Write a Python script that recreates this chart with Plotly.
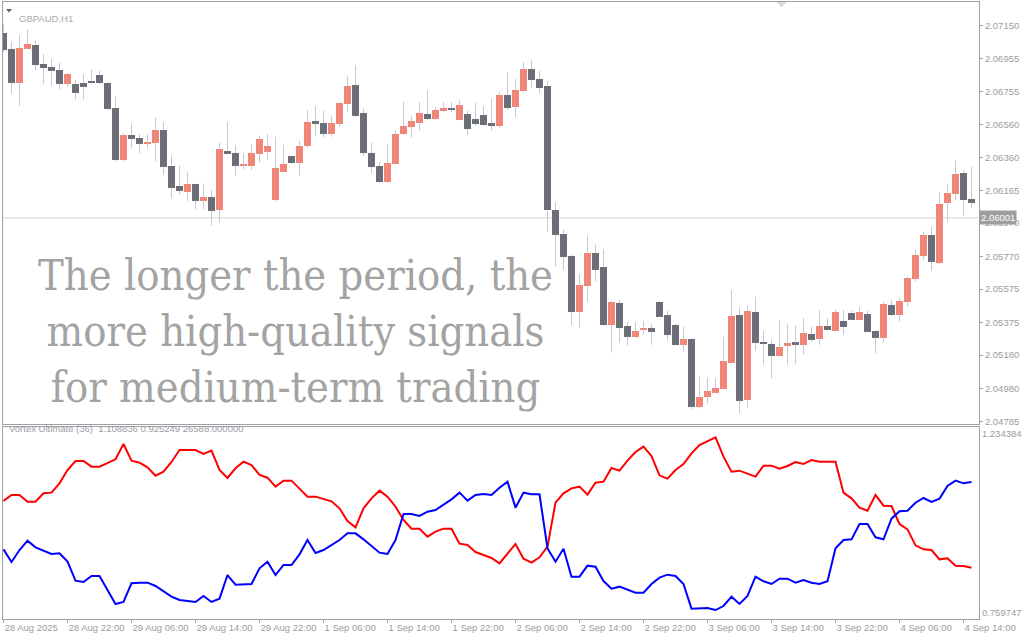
import plotly.graph_objects as go

# ── data ──────────────────────────────────────────────────────────────────────
OPEN = [
    2.07108, 2.07011, 2.06809, 2.07013, 2.07035, 2.06921, 2.06903, 2.06885, 2.06803, 2.06803,
    2.06807, 2.06821, 2.06857, 2.06809, 2.06660, 2.06347, 2.06498, 2.06480, 2.06447, 2.06449,
    2.06528, 2.06313, 2.06193, 2.06157, 2.06205, 2.06104, 2.06126, 2.06048, 2.06403, 2.06389,
    2.06313, 2.06313, 2.06385, 2.06397, 2.06108, 2.06277, 2.06371, 2.06331, 2.06432, 2.06580,
    2.06568, 2.06504, 2.06564, 2.06684, 2.06795, 2.06628, 2.06389, 2.06311, 2.06215, 2.06323,
    2.06502, 2.06544, 2.06568, 2.06622, 2.06592, 2.06640, 2.06658, 2.06586, 2.06622, 2.06592,
    2.06616, 2.06568, 2.06550, 2.06736, 2.06664, 2.06760, 2.06891, 2.06831, 2.06789, 2.06048,
    2.05906, 2.05773, 2.05440, 2.05593, 2.05793, 2.05709, 2.05360, 2.05492, 2.05354, 2.05288,
    2.05332, 2.05342, 2.05498, 2.05420, 2.05360, 2.05242, 2.05278, 2.04872, 2.04928, 2.04955,
    2.04979, 2.05133, 2.05420, 2.04914, 2.05438, 2.05260, 2.05247, 2.05177, 2.05236, 2.05253,
    2.05242, 2.05306, 2.05278, 2.05354, 2.05326, 2.05384, 2.05434, 2.05392, 2.05426, 2.05324,
    2.05284, 2.05480, 2.05420, 2.05498, 2.05635, 2.05773, 2.05900, 2.05731, 2.06092, 2.06145,
    2.06271, 2.06114,
]
HIGH = [
    2.07160, 2.07054, 2.07094, 2.07130, 2.07059, 2.06981, 2.06951, 2.06927, 2.06864, 2.06825,
    2.06861, 2.06891, 2.06881, 2.06812, 2.06730, 2.06507, 2.06564, 2.06502, 2.06502, 2.06602,
    2.06574, 2.06373, 2.06313, 2.06275, 2.06208, 2.06205, 2.06168, 2.06449, 2.06574, 2.06435,
    2.06387, 2.06443, 2.06492, 2.06502, 2.06486, 2.06438, 2.06374, 2.06461, 2.06646, 2.06670,
    2.06640, 2.06610, 2.06694, 2.06849, 2.06915, 2.06654, 2.06449, 2.06335, 2.06443, 2.06526,
    2.06696, 2.06610, 2.06694, 2.06765, 2.06664, 2.06694, 2.06694, 2.06706, 2.06640, 2.06688,
    2.06670, 2.06712, 2.06754, 2.06873, 2.06831, 2.06933, 2.06945, 2.06879, 2.06819, 2.06096,
    2.05933, 2.05780, 2.05665, 2.05894, 2.05840, 2.05813, 2.05505, 2.05514, 2.05378, 2.05378,
    2.05384, 2.05366, 2.05501, 2.05446, 2.05366, 2.05350, 2.05281, 2.05051, 2.05045, 2.05042,
    2.05290, 2.05570, 2.05466, 2.05474, 2.05529, 2.05326, 2.05272, 2.05390, 2.05366, 2.05360,
    2.05402, 2.05350, 2.05450, 2.05402, 2.05456, 2.05450, 2.05446, 2.05468, 2.05444, 2.05327,
    2.05500, 2.05510, 2.05522, 2.05649, 2.05809, 2.05918, 2.05948, 2.06156, 2.06205, 2.06347,
    2.06287, 2.06307,
]
LOW = [
    2.06989, 2.06742, 2.06670, 2.07008, 2.06885, 2.06801, 2.06791, 2.06770, 2.06785, 2.06710,
    2.06710, 2.06800, 2.06803, 2.06646, 2.06341, 2.06341, 2.06419, 2.06385, 2.06414, 2.06337,
    2.06259, 2.06118, 2.06139, 2.06102, 2.06050, 2.06052, 2.05954, 2.05974, 2.06380, 2.06253,
    2.06291, 2.06287, 2.06331, 2.06347, 2.06098, 2.06274, 2.06326, 2.06253, 2.06420, 2.06492,
    2.06483, 2.06486, 2.06546, 2.06636, 2.06605, 2.06373, 2.06269, 2.06212, 2.06212, 2.06320,
    2.06499, 2.06480, 2.06520, 2.06589, 2.06589, 2.06634, 2.06634, 2.06583, 2.06496, 2.06550,
    2.06553, 2.06520, 2.06538, 2.06646, 2.06604, 2.06754, 2.06777, 2.06748, 2.05918, 2.05709,
    2.05689, 2.05360, 2.05344, 2.05500, 2.05623, 2.05355, 2.05197, 2.05254, 2.05236, 2.05285,
    2.05302, 2.05242, 2.05407, 2.05270, 2.05238, 2.05201, 2.04856, 2.04862, 2.04892, 2.04952,
    2.04976, 2.05130, 2.04832, 2.04868, 2.05207, 2.05123, 2.05042, 2.05174, 2.05123, 2.05129,
    2.05183, 2.05260, 2.05242, 2.05328, 2.05323, 2.05302, 2.05389, 2.05389, 2.05316, 2.05189,
    2.05254, 2.05416, 2.05380, 2.05470, 2.05619, 2.05749, 2.05685, 2.05728, 2.05978, 2.06108,
    2.06014, 2.06062,
]
CLOSE = [
    2.07005, 2.06809, 2.07017, 2.07042, 2.06915, 2.06897, 2.06881, 2.06803, 2.06861, 2.06749,
    2.06785, 2.06806, 2.06806, 2.06654, 2.06347, 2.06498, 2.06473, 2.06444, 2.06456, 2.06528,
    2.06307, 2.06181, 2.06162, 2.06205, 2.06104, 2.06126, 2.06044, 2.06414, 2.06385, 2.06313,
    2.06319, 2.06389, 2.06474, 2.06432, 2.06301, 2.06323, 2.06329, 2.06432, 2.06574, 2.06562,
    2.06504, 2.06568, 2.06688, 2.06789, 2.06610, 2.06389, 2.06305, 2.06215, 2.06329, 2.06502,
    2.06550, 2.06580, 2.06628, 2.06592, 2.06646, 2.06658, 2.06646, 2.06676, 2.06532, 2.06562,
    2.06556, 2.06550, 2.06736, 2.06658, 2.06765, 2.06891, 2.06825, 2.06777, 2.06045, 2.05900,
    2.05767, 2.05440, 2.05599, 2.05793, 2.05689, 2.05360, 2.05500, 2.05342, 2.05290, 2.05324,
    2.05344, 2.05320, 2.05410, 2.05300, 2.05242, 2.05278, 2.04872, 2.04931, 2.04966, 2.04985,
    2.05145, 2.05414, 2.04908, 2.05444, 2.05254, 2.05248, 2.05177, 2.05230, 2.05253, 2.05242,
    2.05312, 2.05272, 2.05354, 2.05332, 2.05438, 2.05350, 2.05392, 2.05438, 2.05320, 2.05284,
    2.05486, 2.05420, 2.05504, 2.05641, 2.05779, 2.05900, 2.05737, 2.06085, 2.06151, 2.06265,
    2.06108, 2.06092,
]

VI_PLUS = [
    1.0549, 1.0708, 1.0708, 1.0531, 1.0531, 1.0752, 1.0770, 1.1017, 1.1371, 1.1609,
    1.1609, 1.1459, 1.1459, 1.1565, 1.1654, 1.2060, 1.1618, 1.1565, 1.1441, 1.1220,
    1.1326, 1.1583, 1.1901, 1.1901, 1.1901, 1.1795, 1.1883, 1.1371, 1.1159, 1.1415,
    1.1592, 1.1503, 1.1238, 1.1167, 1.0929, 1.1088, 1.1088, 1.0876, 1.0664, 1.0664,
    1.0593, 1.0540, 1.0354, 1.0018, 0.9850, 1.0354, 1.0619, 1.0823, 1.0664, 1.0398,
    1.0045, 0.9815, 0.9815, 0.9603, 0.9736, 0.9815, 0.9815, 0.9417, 0.9382, 0.9196,
    0.9117, 0.9037, 0.8896, 0.9143, 0.9409, 0.9020, 0.8914, 0.9055, 0.9338, 1.0504,
    1.0752, 1.0885, 1.0929, 1.0717, 1.1035, 1.1061, 1.1424, 1.1353, 1.1618, 1.1848,
    1.1989, 1.1742, 1.1229, 1.1141, 1.1371, 1.1530, 1.1813, 1.2034, 1.2131, 1.2237,
    1.1724, 1.1326, 1.1353, 1.1282, 1.1194, 1.1486, 1.1486, 1.1406, 1.1477, 1.1583,
    1.1530, 1.1636, 1.1592, 1.1592, 1.1592, 1.0770, 1.0619, 1.0372, 1.0292, 1.0708,
    1.0425, 1.0416, 0.9939, 0.9797, 0.9373, 0.9267, 0.9249, 0.9002, 0.9028, 0.8834,
    0.8825, 0.8781,
]
VI_MINUS = [
    0.9267, 0.8931, 0.9249, 0.9497, 0.9320, 0.9223, 0.9143, 0.9161, 0.8940, 0.8436,
    0.8401, 0.8560, 0.8560, 0.8189, 0.7818, 0.7871, 0.8366, 0.8383, 0.8383, 0.8295,
    0.8145, 0.8012, 0.7924, 0.7906, 0.7871, 0.8030, 0.7871, 0.7959, 0.8586, 0.8330,
    0.8330, 0.8348, 0.8763, 0.8940, 0.8586, 0.8852, 0.8852, 0.9134, 0.9515, 0.9170,
    0.9249, 0.9382, 0.9515, 0.9691, 0.9691, 0.9532, 0.9355, 0.9179, 0.9143, 0.9515,
    1.0204, 1.0204, 1.0151, 1.0266, 1.0310, 1.0460, 1.0593, 1.0770, 1.0558, 1.0708,
    1.0734, 1.0708, 1.0900, 1.1061, 1.0372, 1.0770, 1.0725, 1.0725, 0.9294, 0.8940,
    0.9285, 0.8542, 0.8542, 0.8834, 0.8807, 0.8427, 0.8224, 0.8277, 0.8206, 0.8118,
    0.8118, 0.8348, 0.8516, 0.8595, 0.8560, 0.8348, 0.7694, 0.7711, 0.7711, 0.7658,
    0.7764, 0.8012, 0.7818, 0.8030, 0.8542, 0.8419, 0.8348, 0.8489, 0.8489, 0.8383,
    0.8454, 0.8383, 0.8348, 0.8419, 0.9294, 0.9515, 0.9532, 0.9939, 0.9939, 0.9585,
    0.9532, 1.0080, 1.0275, 1.0292, 1.0504, 1.0628, 1.0522, 1.0611, 1.0946, 1.1088,
    1.1017, 1.1052,
]

TIME_LABELS = [
    "28 Aug 2025", "28 Aug 22:00", "29 Aug 06:00", "29 Aug 14:00", "29 Aug 22:00",
    "1 Sep 06:00", "1 Sep 14:00", "1 Sep 22:00", "2 Sep 06:00", "2 Sep 14:00",
    "2 Sep 22:00", "3 Sep 06:00", "3 Sep 14:00", "3 Sep 22:00", "4 Sep 06:00",
    "4 Sep 14:00",
]
BARS_PER_LABEL = 8
PRICE_TICKS = [2.07150, 2.06955, 2.06755, 2.06560, 2.06360, 2.06165, 2.05970,
               2.05770, 2.05575, 2.05375, 2.05180, 2.04980, 2.04785]
VORTEX_TICKS = [0.759747, 1.234384]
LAST_PRICE = 2.06001
SYMBOL = "GBPAUD,H1"
INDICATOR_LABEL = "Vortex Ultimate (36)  1.108836 0.925249 26588.000000"
OVERLAY = ["The longer the period, the", "more high-quality signals", "for medium-term trading"]

# ── style ─────────────────────────────────────────────────────────────────────
W, H = 1024, 640
ML, MR, MT, MB = 3, 45, 2, 21
PW, PH = W - ML - MR, H - MT - MB
BULL, BEAR = "#ef8677", "#6b6e76"
WICK = "#c8c9d1"
FRAME = "#a0a0a4"
TXT = "#9b9ba3"
FONT = "Tahoma, 'Liberation Sans', Arial, sans-serif"


def px(x):
    return (x - ML) / PW


def py(y):
    return (H - MB - y) / PH


n = len(CLOSE)
idx = list(range(n))

# bodies (tiny minimum so doji bars stay visible)
base, height, colors = [], [], []
for o, c in zip(OPEN, CLOSE):
    h = c - o
    if abs(h) < 0.00003:
        h = 0.00003 if h >= 0 else -0.00003
    base.append(o)
    height.append(h)
    colors.append(BULL if c > o else BEAR)

# wicks above and below the body
wx, wy = [], []
for i, (o, hi, lo, c) in zip(idx, zip(OPEN, HIGH, LOW, CLOSE)):
    top, bot = max(o, c), min(o, c)
    wx += [i, i, None, i, i, None]
    wy += [hi, top, None, bot, lo, None]

fig = go.Figure()
fig.add_trace(go.Scatter(x=wx, y=wy, mode="lines", line=dict(color=WICK, width=1),
                         xaxis="x2", yaxis="y", hoverinfo="skip", showlegend=False))
fig.add_trace(go.Bar(x=idx, y=height, base=base, width=0.875, marker_color=colors,
                     marker_line_width=0, xaxis="x2", yaxis="y", showlegend=False))
fig.add_trace(go.Scatter(x=idx, y=VI_PLUS, mode="lines", line=dict(color="#ff0000", width=2),
                         xaxis="x", yaxis="y2", showlegend=False))
fig.add_trace(go.Scatter(x=idx, y=VI_MINUS, mode="lines", line=dict(color="#0000ff", width=2),
                         xaxis="x", yaxis="y2", showlegend=False))

axis_font = dict(family=FONT, size=9.5, color=TXT)
xrange = [-0.5 / 8, (PW - 0.5) / 8]

fig.update_layout(
    width=W, height=H,
    margin=dict(l=ML, r=MR, t=MT, b=MB, autoexpand=False),
    paper_bgcolor="white", plot_bgcolor="white",
    bargap=0, showlegend=False,
    xaxis=dict(domain=[0, 1], anchor="y2", range=xrange, automargin=False,
               tickvals=[i * BARS_PER_LABEL for i in range(len(TIME_LABELS))],
               ticktext=TIME_LABELS, tickangle=0, ticks="outside", ticklen=3, tickcolor=FRAME,
               ticklabelposition="outside right", tickfont=axis_font,
               showline=True, mirror=True, linecolor=FRAME, linewidth=1,
               showgrid=False, zeroline=False),
    xaxis2=dict(domain=[0, 1], anchor="y", matches="x", range=xrange, automargin=False,
                showticklabels=False, ticks="",
                showline=True, mirror=True, linecolor=FRAME, linewidth=1,
                showgrid=False, zeroline=False),
    yaxis=dict(domain=[py(424), 1], anchor="x2", side="right", automargin=False,
               range=[2.073037 - 0.0000598 * 424, 2.073037 - 0.0000598 * 2],
               tickvals=PRICE_TICKS, tickformat=".5f", ticks="outside", ticklen=3,
               tickcolor=FRAME, tickfont=axis_font,
               showline=True, mirror=True, linecolor=FRAME, linewidth=1,
               showgrid=False, zeroline=False),
    yaxis2=dict(domain=[0, py(427)], anchor="x", side="right", automargin=False,
                range=[0.74198, 1.25109],
                tickvals=VORTEX_TICKS, tickformat=".6f", ticks="", tickfont=axis_font,
                showline=True, mirror=True, linecolor=FRAME, linewidth=1,
                showgrid=False, zeroline=False),
)

# last price line + tag
fig.add_shape(type="line", xref="x2 domain", yref="y", x0=0, x1=1,
              y0=LAST_PRICE, y1=LAST_PRICE, line=dict(color="#d4d6de", width=1), layer="below")
fig.add_annotation(xref="paper", yref="y", x=px(979), y=LAST_PRICE, xanchor="left",
                   text=f"{LAST_PRICE:.5f}", showarrow=False, bgcolor="#9e9e9e",
                   borderpad=1, font=dict(family=FONT, size=9.5, color="white"))

# small chart markers
fig.add_shape(type="path", xref="paper", yref="paper", line_width=0, fillcolor="#606066",
              path=f"M {px(6)} {py(9)} L {px(12)} {py(9)} L {px(9)} {py(12.5)} Z")
fig.add_shape(type="path", xref="paper", yref="paper", line_width=0, fillcolor="#d8d9e0",
              path=f"M {px(776.5)} {py(2)} L {px(786.5)} {py(2)} L {px(781.5)} {py(7.5)} Z")

fig.add_annotation(xref="paper", yref="paper", x=px(17), y=py(10.5), xanchor="left",
                   text=SYMBOL, showarrow=False, font=dict(family=FONT, size=9.5, color="#a8a8b0"))
fig.add_annotation(xref="paper", yref="paper", x=px(7), y=py(436), xanchor="left",
                   text=INDICATOR_LABEL, showarrow=False, font=dict(family=FONT, size=9.5, color=TXT))

fig.add_annotation(xref="paper", yref="paper", x=px(295), y=py(331), xanchor="center",
                   yanchor="middle", text="<br>".join(OVERLAY), showarrow=False, align="center",
                   font=dict(family="'DejaVu Serif Condensed', 'DejaVu Serif', serif",
                             size=43, color="#a3a3a3"))

# the page body has a default margin; drop it so the figure fills the window
fig.write_html("out.html", config={"displayModeBar": False},
               post_script="document.body.style.margin='0';")
